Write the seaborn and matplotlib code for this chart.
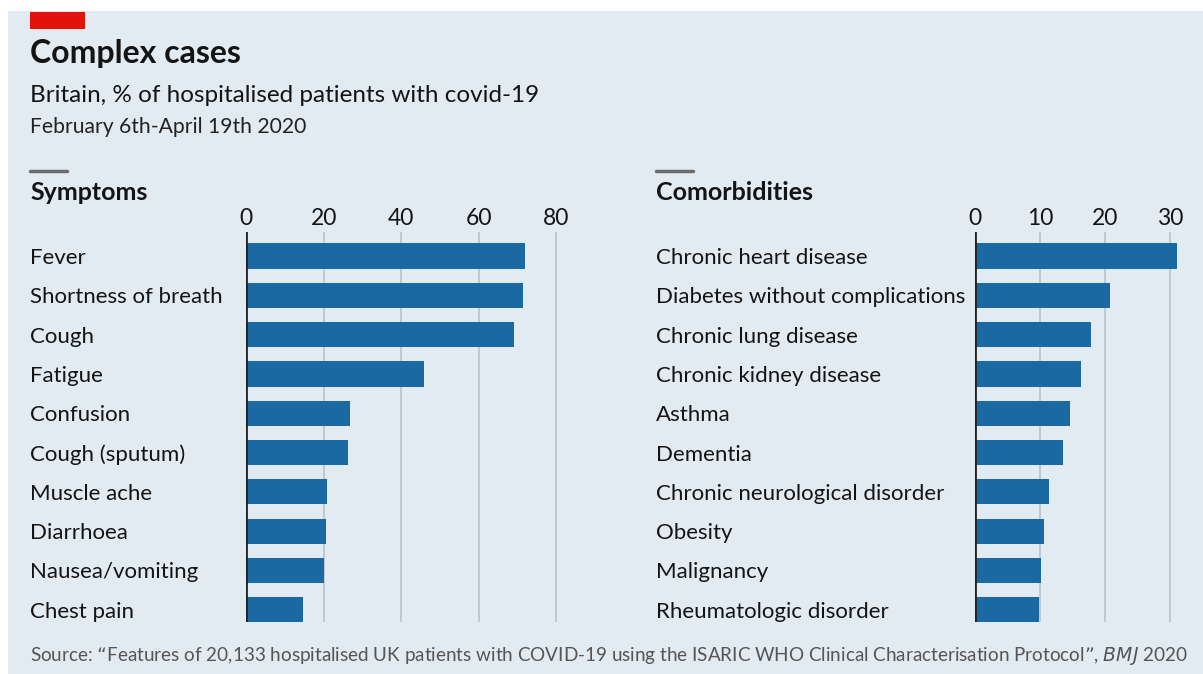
import matplotlib
matplotlib.use("Agg")
import matplotlib.pyplot as plt
import seaborn as sns
import pandas as pd

# Symptoms, % of hospitalised patients
symptoms = ["Fever", "Shortness of breath", "Cough", "Fatigue", "Confusion",
            "Cough (sputum)", "Muscle ache", "Diarrhoea", "Nausea/vomiting",
            "Chest pain"]
symptom_pct = [71.9, 71.5, 69.1, 45.8, 26.9, 26.4, 20.8, 20.5, 20.0, 14.8]
symptom_ticks = [0, 20, 40, 60, 80]

# Comorbidities, % of hospitalised patients
comorbidities = ["Chronic heart disease", "Diabetes without complications",
                 "Chronic lung disease", "Chronic kidney disease", "Asthma",
                 "Dementia", "Chronic neurological disorder", "Obesity",
                 "Malignancy", "Rheumatologic disorder"]
comorbidity_pct = [31.0, 20.8, 17.8, 16.3, 14.6, 13.6, 11.4, 10.6, 10.1, 9.8]
comorbidity_ticks = [0, 10, 20, 30]

BG = "#e3ebf2"
BAR = "#1b69a2"
GRID = "#b9c2cc"
INK = "#141414"

sns.set_theme(style="white")
plt.rcParams["font.family"] = ["Lato", "DejaVu Sans"]

W, H = 1203, 674
fig = plt.figure(figsize=(W / 100, H / 100), dpi=100)
fig.patch.set_facecolor("white")


def fx(px):
    return px / W


def fy(py):
    return 1 - py / H


# panel background and red tag
fig.patches.append(plt.Rectangle((fx(8), 0), 1 - fx(8), 1 - 11 / H,
                                 transform=fig.transFigure, facecolor=BG,
                                 edgecolor="none", zorder=-10))
fig.patches.append(plt.Rectangle((fx(30), fy(29)), 55 / W, 17 / H,
                                 transform=fig.transFigure, facecolor="#e3120b",
                                 edgecolor="none", zorder=-5))

fig.text(fx(30), fy(53), "Complex cases", fontsize=23, fontweight="bold",
         color=INK, va="center", ha="left")
fig.text(fx(30), fy(95), "Britain, % of hospitalised patients with covid-19",
         fontsize=17.5, color=INK, va="center", ha="left")
fig.text(fx(30), fy(127), "February 6th-April 19th 2020", fontsize=15.2,
         color="#222222", va="center", ha="left")
fig.text(fx(30), fy(656),
         "Source: \u201cFeatures of 20,133 hospitalised UK patients with COVID-19 "
         "using the ISARIC WHO Clinical Characterisation Protocol\u201d, $\\it{BMJ}$ 2020",
         fontsize=13.6, color="#555555", va="center", ha="left")


def panel(left_px, right_px, label_px, cats, vals, ticks, xmax, heading):
    top, bottom = 232, 622
    ax = fig.add_axes([fx(left_px), fy(bottom), fx(right_px - left_px),
                       (bottom - top) / H])
    ax.set_facecolor("none")
    df = pd.DataFrame({"cat": cats, "val": vals})
    sns.barplot(data=df, x="val", y="cat", orient="h", color=BAR, width=0.64,
                saturation=1, linewidth=0, edgecolor="none", ax=ax, zorder=3)
    ax.set_xlim(0, xmax)
    ax.set_ylim(9.31, -0.61)
    ax.set_xticks(ticks)
    ax.set_xticklabels([str(t) for t in ticks])
    ax.xaxis.tick_top()
    ax.set_xlabel("")
    ax.set_ylabel("")
    for s in ax.spines.values():
        s.set_visible(False)
    for t in ticks[1:]:
        ax.axvline(t, color=GRID, lw=1.2, zorder=1)
    ax.axvline(0, color="#222222", lw=2, zorder=4)
    ax.tick_params(axis="x", length=0, pad=2, labelsize=16.5, labelcolor=INK)
    ax.tick_params(axis="y", length=0,
                   pad=(left_px - label_px) * 72 / 100, labelsize=16,
                   labelcolor=INK)
    for lab in ax.get_yticklabels():
        lab.set_horizontalalignment("left")
    # heading with short grey rule
    fig.text(fx(label_px), fy(192), heading, fontsize=18, fontweight="bold",
             color=INK, va="center", ha="left")
    fig.add_artist(plt.Line2D([fx(label_px), fx(label_px + 37)],
                              [fy(171), fy(171)], color="#6b6b6b", lw=2.5,
                              transform=fig.transFigure))
    return ax


panel(246, 246 + 82 * 3.88, 30, symptoms, symptom_pct, symptom_ticks, 82,
      "Symptoms")
panel(975, 975 + 32 * 6.5, 656, comorbidities, comorbidity_pct,
      comorbidity_ticks, 32, "Comorbidities")

fig.savefig("out.png", dpi=100, facecolor=fig.get_facecolor())
